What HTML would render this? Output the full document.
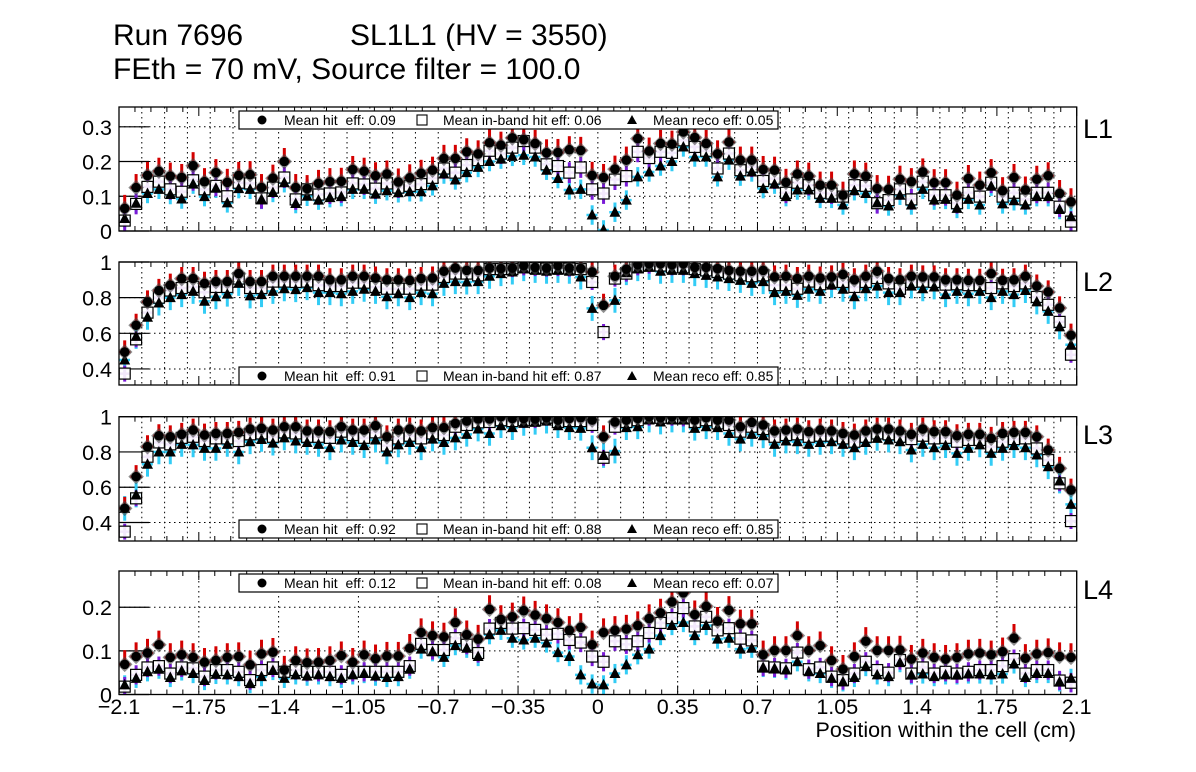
<!DOCTYPE html>
<html><head><meta charset="utf-8"><style>
html,body{margin:0;padding:0;background:#fff;}
svg{display:block;font-family:"Liberation Sans",Arial,sans-serif;}
</style></head><body>
<svg id="chart" width="1196" height="772" viewBox="0 0 1196 772" xmlns="http://www.w3.org/2000/svg">
<rect x="0" y="0" width="1196" height="772" fill="#fff"/>
<text x="113" y="45" font-size="30">Run 7696</text>
<text x="350" y="45" font-size="30">SL1L1 (HV = 3550)</text>
<text x="113" y="79" font-size="30">FEth = 70 mV, Source filter = 100.0</text>
<g id="plots"></g>
<text x="1076" y="737" font-size="21.5" text-anchor="end">Position within the cell (cm)</text>
</svg>
<script>
const xTickLabels=["\u22122.1","\u22121.75","\u22121.4","\u22121.05","\u22120.7","\u22120.35","0","0.35","0.7","1.05","1.4","1.75","2.1"];
const xTickValues=[-2.1,-1.75,-1.4,-1.05,-0.7,-0.35,0,0.35,0.7,1.05,1.4,1.75,2.1];
const binLow=-2.1, binWidth=0.05, nBins=84;

const p1Hit=[0.065,0.125,0.16,0.172,0.158,0.154,0.188,0.142,0.168,0.14,0.16,0.162,0.125,0.152,0.2,0.125,0.122,0.137,0.142,0.143,0.177,0.172,0.159,0.164,0.141,0.153,0.166,0.175,0.209,0.209,0.228,0.222,0.254,0.247,0.268,0.263,0.252,0.225,0.226,0.234,0.232,0.16,0.154,0.178,0.204,0.266,0.23,0.252,0.25,0.285,0.269,0.252,0.222,0.256,0.204,0.204,0.177,0.175,0.14,0.164,0.158,0.132,0.132,0.103,0.164,0.158,0.122,0.12,0.149,0.142,0.17,0.139,0.139,0.103,0.151,0.132,0.168,0.116,0.154,0.118,0.149,0.159,0.108,0.084];
const p1Band=[0.03,0.078,0.127,0.142,0.12,0.113,0.146,0.12,0.13,0.1,0.139,0.137,0.094,0.125,0.154,0.091,0.12,0.105,0.108,0.111,0.137,0.134,0.122,0.137,0.125,0.13,0.135,0.153,0.18,0.168,0.19,0.204,0.231,0.223,0.24,0.259,0.24,0.192,0.187,0.168,0.183,0.12,0.108,0.148,0.158,0.228,0.21,0.228,0.225,0.261,0.242,0.231,0.18,0.223,0.175,0.185,0.144,0.151,0.11,0.139,0.132,0.11,0.108,0.099,0.132,0.13,0.08,0.089,0.12,0.091,0.142,0.103,0.103,0.08,0.11,0.099,0.139,0.099,0.11,0.091,0.11,0.11,0.07,0.027];
const p1Reco=[0.036,0.08,0.108,0.12,0.105,0.092,0.135,0.099,0.123,0.081,0.122,0.12,0.091,0.111,0.139,0.079,0.1,0.089,0.096,0.099,0.12,0.12,0.106,0.116,0.11,0.113,0.113,0.13,0.164,0.147,0.168,0.183,0.2,0.207,0.215,0.218,0.213,0.175,0.151,0.118,0.12,0.046,0.003,0.054,0.089,0.156,0.17,0.187,0.2,0.242,0.213,0.213,0.156,0.204,0.158,0.17,0.122,0.135,0.099,0.118,0.118,0.094,0.094,0.075,0.116,0.108,0.081,0.072,0.103,0.075,0.12,0.089,0.091,0.065,0.091,0.075,0.129,0.078,0.087,0.075,0.099,0.099,0.062,0.041];

const p2Hit=[0.495,0.645,0.776,0.84,0.87,0.907,0.907,0.88,0.89,0.89,0.935,0.89,0.89,0.92,0.92,0.92,0.92,0.92,0.9,0.9,0.92,0.92,0.91,0.9,0.9,0.897,0.907,0.91,0.948,0.966,0.953,0.953,0.966,0.963,0.966,0.98,0.97,0.966,0.98,0.966,0.963,0.944,0.757,0.92,0.96,0.985,0.99,0.99,0.985,0.99,0.97,0.97,0.963,0.953,0.948,0.948,0.953,0.916,0.92,0.907,0.92,0.91,0.916,0.93,0.9,0.92,0.948,0.907,0.9,0.92,0.916,0.916,0.9,0.9,0.897,0.897,0.935,0.897,0.9,0.92,0.865,0.832,0.742,0.589];
const p2Band=[0.374,0.566,0.716,0.8,0.84,0.854,0.86,0.83,0.86,0.86,0.907,0.854,0.854,0.89,0.89,0.888,0.89,0.87,0.865,0.865,0.884,0.884,0.86,0.85,0.85,0.85,0.873,0.873,0.916,0.935,0.935,0.925,0.96,0.96,0.96,0.97,0.966,0.963,0.966,0.963,0.96,0.888,0.607,0.907,0.935,0.97,0.98,0.98,0.97,0.97,0.96,0.953,0.944,0.935,0.925,0.92,0.925,0.87,0.87,0.85,0.89,0.875,0.888,0.888,0.86,0.888,0.91,0.88,0.85,0.888,0.89,0.888,0.873,0.875,0.87,0.87,0.854,0.88,0.865,0.88,0.804,0.76,0.664,0.48];
const p2Reco=[0.45,0.583,0.69,0.77,0.8,0.817,0.835,0.78,0.805,0.82,0.88,0.81,0.817,0.835,0.85,0.845,0.856,0.828,0.828,0.822,0.835,0.847,0.835,0.805,0.822,0.8,0.828,0.822,0.88,0.89,0.888,0.89,0.92,0.935,0.944,0.963,0.953,0.948,0.953,0.948,0.916,0.74,0.32,0.785,0.94,0.963,0.97,0.948,0.953,0.953,0.935,0.925,0.916,0.907,0.897,0.88,0.89,0.828,0.835,0.813,0.847,0.835,0.87,0.847,0.805,0.85,0.865,0.828,0.828,0.865,0.85,0.86,0.817,0.835,0.822,0.835,0.8,0.835,0.817,0.84,0.776,0.723,0.636,0.536];

const p3Hit=[0.48,0.66,0.83,0.892,0.886,0.9,0.924,0.896,0.905,0.905,0.911,0.93,0.934,0.924,0.943,0.943,0.919,0.919,0.915,0.943,0.924,0.924,0.949,0.886,0.924,0.93,0.919,0.938,0.938,0.962,0.975,0.987,0.987,1.0,0.99,0.99,0.987,0.994,0.981,0.99,0.994,0.981,0.886,0.97,0.981,0.99,1.0,0.994,1.0,1.0,0.981,0.994,0.981,0.981,0.943,0.968,0.953,0.919,0.924,0.93,0.915,0.924,0.919,0.905,0.896,0.919,0.93,0.93,0.919,0.9,0.93,0.915,0.915,0.892,0.9,0.9,0.877,0.905,0.911,0.911,0.886,0.811,0.707,0.584];
const p3Band=[0.348,0.537,0.773,0.854,0.843,0.88,0.886,0.862,0.877,0.877,0.862,0.9,0.905,0.886,0.911,0.905,0.886,0.886,0.88,0.915,0.896,0.88,0.911,0.836,0.877,0.892,0.877,0.905,0.896,0.943,0.953,0.968,0.97,0.98,0.975,0.98,0.98,0.994,0.97,0.975,0.975,0.953,0.767,0.943,0.97,0.98,0.994,0.994,0.994,0.99,0.97,0.98,0.962,0.953,0.915,0.943,0.93,0.886,0.896,0.9,0.886,0.892,0.892,0.877,0.858,0.886,0.905,0.9,0.886,0.873,0.892,0.877,0.88,0.858,0.868,0.868,0.83,0.858,0.873,0.877,0.82,0.754,0.622,0.408];
const p3Reco=[0.48,0.556,0.73,0.8,0.8,0.843,0.84,0.82,0.82,0.843,0.8,0.858,0.871,0.85,0.88,0.862,0.854,0.843,0.824,0.868,0.854,0.836,0.868,0.8,0.84,0.854,0.824,0.873,0.854,0.88,0.9,0.93,0.905,0.949,0.938,0.962,0.968,0.975,0.949,0.938,0.934,0.824,0.78,0.805,0.938,0.943,0.981,0.97,0.981,0.981,0.934,0.943,0.938,0.905,0.873,0.9,0.892,0.843,0.862,0.858,0.843,0.854,0.858,0.843,0.824,0.854,0.877,0.868,0.858,0.811,0.843,0.824,0.836,0.792,0.82,0.84,0.792,0.82,0.836,0.824,0.783,0.716,0.635,0.503];

const p4Hit=[0.069,0.087,0.095,0.114,0.085,0.091,0.085,0.074,0.078,0.085,0.087,0.068,0.093,0.097,0.056,0.078,0.073,0.074,0.078,0.089,0.074,0.091,0.082,0.088,0.088,0.106,0.142,0.135,0.132,0.165,0.137,0.127,0.195,0.172,0.178,0.192,0.182,0.174,0.165,0.147,0.154,0.114,0.142,0.147,0.15,0.158,0.174,0.187,0.212,0.233,0.183,0.202,0.168,0.193,0.162,0.162,0.091,0.101,0.101,0.135,0.101,0.112,0.078,0.058,0.087,0.122,0.101,0.101,0.102,0.081,0.095,0.085,0.081,0.085,0.093,0.095,0.091,0.098,0.129,0.083,0.093,0.096,0.087,0.085];
const p4Band=[0.018,0.045,0.062,0.065,0.048,0.062,0.06,0.041,0.056,0.056,0.052,0.033,0.056,0.062,0.052,0.056,0.052,0.052,0.052,0.045,0.052,0.052,0.052,0.052,0.052,0.065,0.116,0.102,0.102,0.129,0.114,0.095,0.151,0.164,0.151,0.152,0.148,0.137,0.139,0.125,0.119,0.087,0.075,0.122,0.115,0.122,0.141,0.164,0.175,0.198,0.156,0.178,0.147,0.152,0.128,0.124,0.064,0.062,0.06,0.096,0.058,0.062,0.041,0.033,0.048,0.075,0.056,0.05,0.079,0.048,0.062,0.048,0.052,0.048,0.052,0.056,0.056,0.065,0.081,0.048,0.056,0.056,0.032,0.027];
const p4Reco=[0.022,0.037,0.052,0.058,0.039,0.054,0.048,0.032,0.046,0.045,0.041,0.025,0.041,0.055,0.037,0.045,0.042,0.045,0.041,0.037,0.045,0.048,0.042,0.039,0.041,0.058,0.104,0.098,0.085,0.112,0.106,0.087,0.137,0.147,0.129,0.125,0.129,0.118,0.096,0.087,0.045,0.024,0.022,0.048,0.068,0.091,0.104,0.135,0.158,0.165,0.135,0.158,0.127,0.129,0.104,0.106,0.062,0.06,0.056,0.075,0.052,0.048,0.037,0.029,0.039,0.064,0.045,0.041,0.073,0.045,0.047,0.041,0.045,0.045,0.047,0.047,0.045,0.047,0.07,0.039,0.048,0.048,0.029,0.037];

const p1Legend=["Mean hit\u00a0 eff: 0.09","Mean in-band hit eff: 0.06","Mean reco eff: 0.05"];
const p2Legend=["Mean hit\u00a0 eff: 0.91","Mean in-band hit eff: 0.87","Mean reco eff: 0.85"];
const p3Legend=["Mean hit\u00a0 eff: 0.92","Mean in-band hit eff: 0.88","Mean reco eff: 0.85"];
const p4Legend=["Mean hit\u00a0 eff: 0.12","Mean in-band hit eff: 0.08","Mean reco eff: 0.07"];
const p1YTicks=[0,0.1,0.2,0.3], p1YLabels=["0","0.1","0.2","0.3"];
const p2YTicks=[0.4,0.6,0.8,1], p2YLabels=["0.4","0.6","0.8","1"];
const p3YTicks=[0.4,0.6,0.8,1], p3YLabels=["0.4","0.6","0.8","1"];
const p4YTicks=[0,0.1,0.2], p4YLabels=["0","0.1","0.2"];

const NS="http://www.w3.org/2000/svg";
const L=119,R=1076.7;
function xs(v){return L+(v+2.1)/4.2*(R-L);}
function mk(tag,attrs,parent){const e=document.createElementNS(NS,tag);for(const k in attrs)e.setAttribute(k,attrs[k]);parent.appendChild(e);return e;}
const root=document.getElementById('plots');

const panels=[
 {name:'l1',label:'L1',top:107,bot:231,ymin:0,ymax:0.357,hit:p1Hit,band:p1Band,reco:p1Reco,leg:p1Legend,ly:111,yt:p1YTicks,yl:p1YLabels,err:[0.03,0.03,0.028],fine:true,labY:138},
 {name:'l2',label:'L2',top:262,bot:385,ymin:0.31,ymax:1.0,hit:p2Hit,band:p2Band,reco:p2Reco,leg:p2Legend,ly:367,yt:p2YTicks,yl:p2YLabels,err:[0.05,0.045,0.07],fine:true,labY:291},
 {name:'l3',label:'L3',top:416.7,bot:541,ymin:0.295,ymax:1.0,hit:p3Hit,band:p3Band,reco:p3Reco,leg:p3Legend,ly:520,yt:p3YTicks,yl:p3YLabels,err:[0.05,0.045,0.07],fine:true,labY:444},
 {name:'l4',label:'L4',top:571,bot:694.5,ymin:0,ymax:0.283,hit:p4Hit,band:p4Band,reco:p4Reco,leg:p4Legend,ly:574,yt:p4YTicks,yl:p4YLabels,err:[0.025,0.022,0.022],fine:false,labY:599}
];

panels.forEach((p,pi)=>{
 const g=mk('g',{},root);
 
 
 const ys=v=>p.bot-(v-p.ymin)/(p.ymax-p.ymin)*(p.bot-p.top);
 const clip=mk('clipPath',{id:'clip'+pi},g);
 mk('rect',{x:L,y:p.top,width:R-L,height:p.bot-p.top},clip);
 const grid=mk('g',{stroke:'#000','stroke-width':1,'stroke-dasharray':'1.5,3.5'},g);
 
 
 if(p.fine){for(let i=1;i<42;i++){const x=xs(-2.1+i*0.1);mk('line',{x1:x,x2:x,y1:p.top,y2:p.bot},grid);}}
 else{xTickValues.forEach(v=>{if(v>-2.1&&v<2.1){const x=xs(v);mk('line',{x1:x,x2:x,y1:p.top,y2:p.bot},grid);}});}
 p.yt.forEach(v=>{const y=ys(v);if(y>p.top+1&&y<p.bot-1)mk('line',{x1:L,x2:R,y1:y,y2:y},grid);});
 p.yt.forEach((v,i)=>{const y=ys(v);
  const t=mk('line',{x1:L,x2:L+30,y1:y,y2:y,stroke:'#000','stroke-width':1.2},g);
  
  
  const tx=mk('text',{x:112,y:y+8,'font-size':21.5,'text-anchor':'end'},g);tx.textContent=p.yl[i];
  
  
 });
 for(let i=0;i<=60;i++){const v=-2.1+i*0.07;const x=xs(v);const major=(i%5===0);const len=major?9:5;
  mk('line',{x1:x,x2:x,y1:p.bot,y2:p.bot-len,stroke:'#000','stroke-width':1},g);
  mk('line',{x1:x,x2:x,y1:p.top,y2:p.top+len,stroke:'#000','stroke-width':1},g);}
 const data=mk('g',{'clip-path':'url(#clip'+pi+')'},g);
 
 
 const hw=binWidth/2*(R-L)/4.2;
 const series=[[p.reco,'#33ccf5',p.err[2]],[p.band,'#7a1ad6',p.err[1]],[p.hit,'#d40000',p.err[0]]];
 series.forEach(([arr,col,e],si)=>{
  for(let i=0;i<nBins;i++){const c=binLow+binWidth*(i+0.5);const x=xs(c);const v=arr[i];
   const up=si===2?e*1.3:e, dn=si===2?e*0.3:e;
   const vl=mk('line',{x1:x,x2:x,y1:ys(v+up),y2:ys(v-dn),stroke:col,'stroke-width':3},data);
   
   
   mk('line',{x1:x-hw,x2:x+hw,y1:ys(v),y2:ys(v),stroke:col,'stroke-width':2.5,'stroke-dasharray':si===0?'4,3':'none'},data);
  }
 });
 for(let i=0;i<nBins;i++){const x=xs(binLow+binWidth*(i+0.5));
  const sq=mk('rect',{x:x-5.5,y:ys(p.band[i])-5.5,width:11,height:11,fill:'#fff','fill-opacity':0.9,stroke:'#000','stroke-width':1.2},data);
  
  
 }
 for(let i=0;i<nBins;i++){const x=xs(binLow+binWidth*(i+0.5));const y=ys(p.reco[i]);
  const tr=mk('polygon',{points:`${x},${y-6} ${x-5.5},${y+4.5} ${x+5.5},${y+4.5}`,fill:'#000'},data);
  
  
 }
 for(let i=0;i<nBins;i++){const x=xs(binLow+binWidth*(i+0.5));const y=ys(p.hit[i]);
  mk('rect',{x:x-5.5,y:y-5.5,width:11,height:11,fill:'#444','fill-opacity':0.6,transform:`rotate(45 ${x} ${y})`},data);
  const c=mk('circle',{cx:x,cy:y,r:4.8,fill:'#000'},data);
  
  
 }
 const fr=mk('rect',{x:L,y:p.top,width:R-L,height:p.bot-p.top,fill:'none',stroke:'#000','stroke-width':1.3},g);
 
 
 const lg=mk('g',{},g);
 
 
 mk('rect',{x:239,y:p.ly,width:539,height:18,fill:'#fff',stroke:'#000','stroke-width':1.2},lg);
 const cy=p.ly+9;
 mk('circle',{cx:262,cy:cy,r:4.5,fill:'#000'},lg);
 mk('rect',{x:417,y:cy-5,width:10,height:10,fill:'#fff',stroke:'#000','stroke-width':1.1},lg);
 mk('polygon',{points:`632,${cy-5} 627,${cy+4} 637,${cy+4}`,fill:'#000'},lg);
 [[284,0],[443,1],[653,2]].forEach(([x,k])=>{const t=mk('text',{x:x,y:cy+5,'font-size':14},lg);t.textContent=p.leg[k];
  
  });
 const lab=mk('text',{x:1083,y:p.labY,'font-size':27},g);lab.textContent=p.label;
 
 
});
xTickValues.forEach((v,i)=>{const t=mk('text',{x:xs(v),y:714,'font-size':21.5,'text-anchor':'middle'},root);t.textContent=xTickLabels[i];
 
 });
</script>
</body></html>
